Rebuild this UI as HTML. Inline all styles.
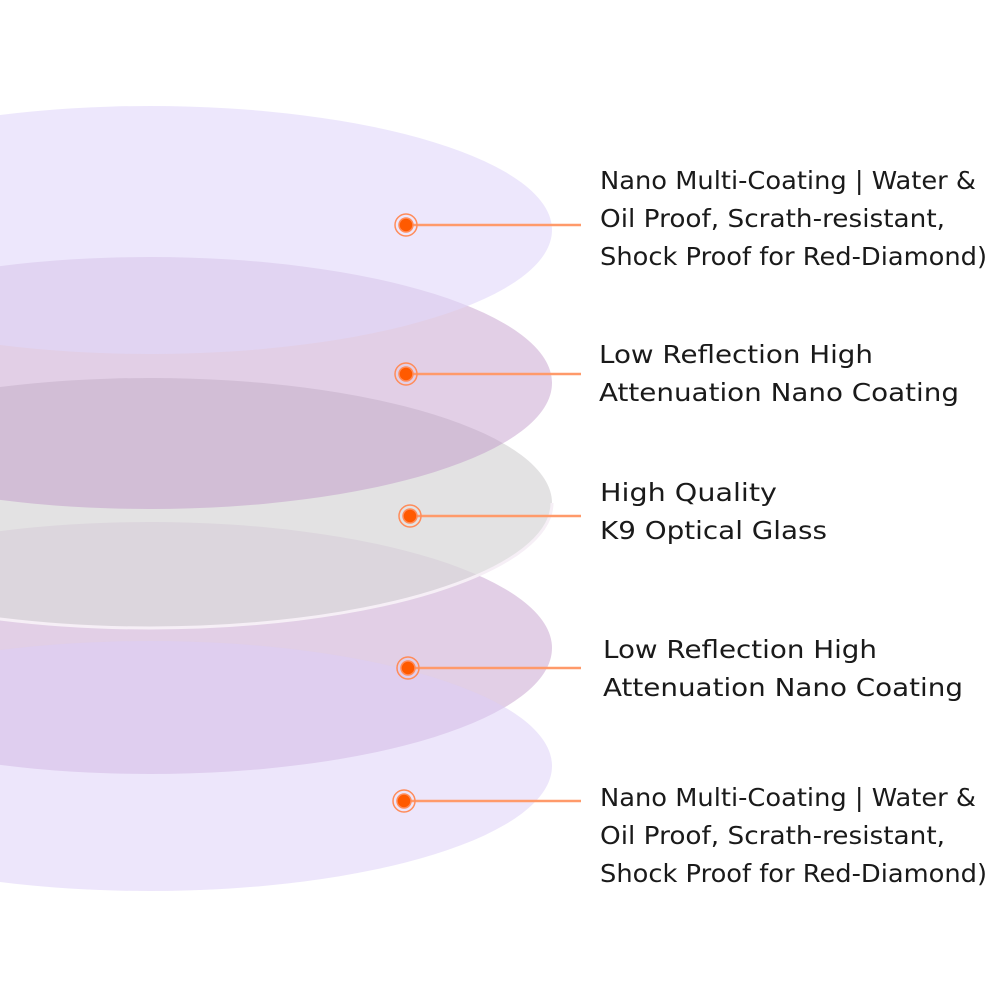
<!DOCTYPE html>
<html><head><meta charset="utf-8"><style>html,body{margin:0;padding:0;background:#fff}svg{display:block}</style></head>
<body>
<svg width="1000" height="1000" viewBox="0 0 1000 1000" xmlns="http://www.w3.org/2000/svg">
<rect width="1000" height="1000" fill="#fff"/>
<ellipse cx="150" cy="648" rx="402" ry="126" fill="rgb(185,140,195)" fill-opacity="0.42"/>
<ellipse cx="150" cy="503" rx="402" ry="125" fill="rgb(218,216,218)" fill-opacity="0.75"/>
<path d="M -252 503 A 402 125 0 0 0 552 503" fill="none" stroke="#f6eff6" stroke-width="3"/>
<ellipse cx="150" cy="383" rx="402" ry="126" fill="rgb(185,140,195)" fill-opacity="0.42"/>
<ellipse cx="150" cy="230" rx="402" ry="124" fill="rgb(225,215,250)" fill-opacity="0.6"/>
<ellipse cx="150" cy="766" rx="402" ry="125" fill="rgb(220,205,248)" fill-opacity="0.5"/>
<g stroke="#ff9a6a" stroke-width="2.5">
<line x1="407" y1="225" x2="581" y2="225"/>
<line x1="406" y1="374" x2="581" y2="374"/>
<line x1="410" y1="516" x2="581" y2="516"/>
<line x1="408" y1="668" x2="581" y2="668"/>
<line x1="405" y1="801" x2="581" y2="801"/>
</g>
<g fill="#ff5a00" stroke="#ff8c5a" stroke-width="1.5">
<circle cx="406" cy="225" r="7"/><circle cx="406" cy="225" r="11" fill="none"/>
<circle cx="406" cy="374" r="7"/><circle cx="406" cy="374" r="11" fill="none"/>
<circle cx="410" cy="516" r="7"/><circle cx="410" cy="516" r="11" fill="none"/>
<circle cx="408" cy="668" r="7"/><circle cx="408" cy="668" r="11" fill="none"/>
<circle cx="404" cy="801" r="7"/><circle cx="404" cy="801" r="11" fill="none"/>
</g>
<g font-family="DejaVu Sans, Liberation Sans, sans-serif" font-size="25" fill="#1a1a1a">
<text x="600" y="189" textLength="376" lengthAdjust="spacingAndGlyphs">Nano Multi-Coating | Water &amp;</text>
<text x="600" y="227" textLength="345" lengthAdjust="spacingAndGlyphs">Oil Proof, Scrath-resistant,</text>
<text x="600" y="265" textLength="387" lengthAdjust="spacingAndGlyphs">Shock Proof for Red-Diamond)</text>
<text x="599" y="363" textLength="274" lengthAdjust="spacingAndGlyphs">Low Reflection High</text>
<text x="599" y="401" textLength="360" lengthAdjust="spacingAndGlyphs">Attenuation Nano Coating</text>
<text x="600" y="501" textLength="177" lengthAdjust="spacingAndGlyphs">High Quality</text>
<text x="600" y="539" textLength="227" lengthAdjust="spacingAndGlyphs">K9 Optical Glass</text>
<text x="603" y="658" textLength="274" lengthAdjust="spacingAndGlyphs">Low Reflection High</text>
<text x="603" y="696" textLength="360" lengthAdjust="spacingAndGlyphs">Attenuation Nano Coating</text>
<text x="600" y="806" textLength="376" lengthAdjust="spacingAndGlyphs">Nano Multi-Coating | Water &amp;</text>
<text x="600" y="844" textLength="345" lengthAdjust="spacingAndGlyphs">Oil Proof, Scrath-resistant,</text>
<text x="600" y="882" textLength="387" lengthAdjust="spacingAndGlyphs">Shock Proof for Red-Diamond)</text>
</g>
</svg>
</body></html>
